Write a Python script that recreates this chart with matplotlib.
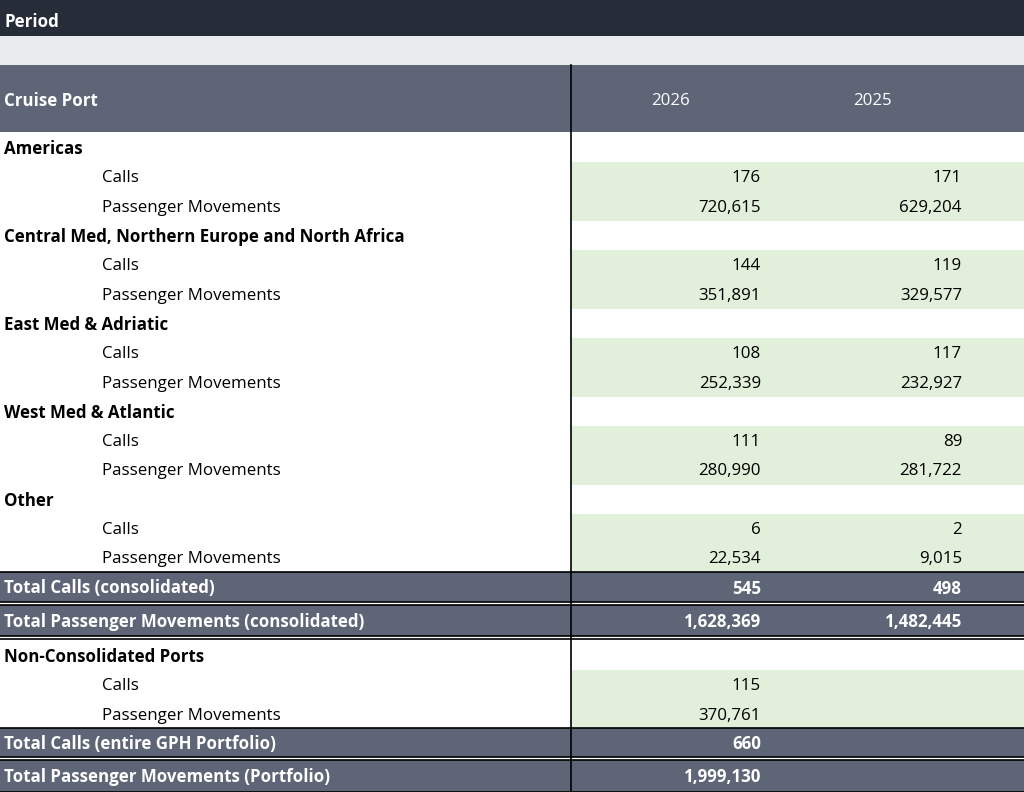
import matplotlib.pyplot as plt
from matplotlib.patches import Rectangle

plt.rcParams['font.family'] = ['Liberation Sans Narrow', 'Open Sans', 'DejaVu Sans']

years = ['2026', '2025']
regions = ['Americas', 'Central Med, Northern Europe and North Africa',
           'East Med & Adriatic', 'West Med & Atlantic', 'Other']
calls_2026 = [176, 144, 108, 111, 6]
calls_2025 = [171, 119, 117, 89, 2]
pax_2026 = [720615, 351891, 252339, 280990, 22534]
pax_2025 = [629204, 329577, 232927, 281722, 9015]
total_calls = [545, 498]
total_pax = [1628369, 1482445]
noncons_calls = [115, None]
noncons_pax = [370761, None]
portfolio_calls = [660, None]
portfolio_pax = [1999130, None]

DARK = '#262c38'
HEAD = '#5d6577'
GREEN = '#e2efda'
FS = 12.2
DY = 1.5  # nudge text down a bit

fig = plt.figure(figsize=(10.24, 7.92), dpi=100)
ax = fig.add_axes([0, 0, 1, 1])
ax.set_xlim(0, 1024)
ax.set_ylim(792, 0)
ax.axis('off')

col_x = [761, 962]
DIV = 571


def fmt(v):
    return '' if v is None else f'{v:,}'


def band(y0, y1, color):
    ax.add_patch(Rectangle((0, y0), 1024, y1 - y0, color=color, lw=0))


def total_row(y0, y1, label, vals):
    band(y0, y1, HEAD)
    ym = (y0 + y1) / 2 + DY
    ax.text(4, ym, label, color='white', fontweight='bold', fontsize=FS, va='center')
    for x, v in zip(col_x, vals):
        ax.text(x, ym, fmt(v), color='white', fontweight='bold', fontsize=FS,
                va='center', ha='right')
    ax.plot([0, 1024], [y0, y0], color='black', lw=1.2)
    ax.plot([0, 1024], [y1, y1], color='black', lw=1.2)


def detail_rows(y0, label, calls, pax, h=29.3):
    ax.text(4, y0 + h / 2 + DY, label, fontweight='bold', fontsize=FS, va='center')
    ax.add_patch(Rectangle((DIV, y0 + h), 1024 - DIV, 2 * h, color=GREEN, lw=0))
    for i, (name, vals) in enumerate([('Calls', calls), ('Passenger Movements', pax)]):
        ym = y0 + h * (i + 1.5) + DY
        ax.text(102, ym, name, fontsize=FS, va='center')
        for x, v in zip(col_x, vals):
            ax.text(x, ym, fmt(v), fontsize=FS, va='center', ha='right')
    return y0 + 3 * h


# header
band(0, 36, DARK)
ax.text(4, 22, 'Period', color='white', fontweight='bold', fontsize=FS, va='center')
band(36, 65, '#e8ebee')
band(65, 132, HEAD)
ax.text(4, 101, 'Cruise Port', color='white', fontweight='bold', fontsize=FS, va='center')
ax.text(671, 101, years[0], color='white', fontsize=FS, va='center', ha='center')
ax.text(872, 101, years[1], color='white', fontsize=FS, va='center', ha='center')

y = 133
for i, r in enumerate(regions):
    y = detail_rows(y, r, [calls_2026[i], calls_2025[i]], [pax_2026[i], pax_2025[i]])

total_row(572, 602, 'Total Calls (consolidated)', total_calls)
total_row(605, 636, 'Total Passenger Movements (consolidated)', total_pax)
ax.plot([0, 1024], [639, 639], color='black', lw=1.2)
detail_rows(641, 'Non-Consolidated Ports', noncons_calls, noncons_pax)
total_row(728, 757, 'Total Calls (entire GPH Portfolio)', portfolio_calls)
total_row(760, 792, 'Total Passenger Movements (Portfolio)', portfolio_pax)

ax.plot([DIV, DIV], [65, 792], color='black', lw=1.2)

fig.savefig('out.png', dpi=100)
